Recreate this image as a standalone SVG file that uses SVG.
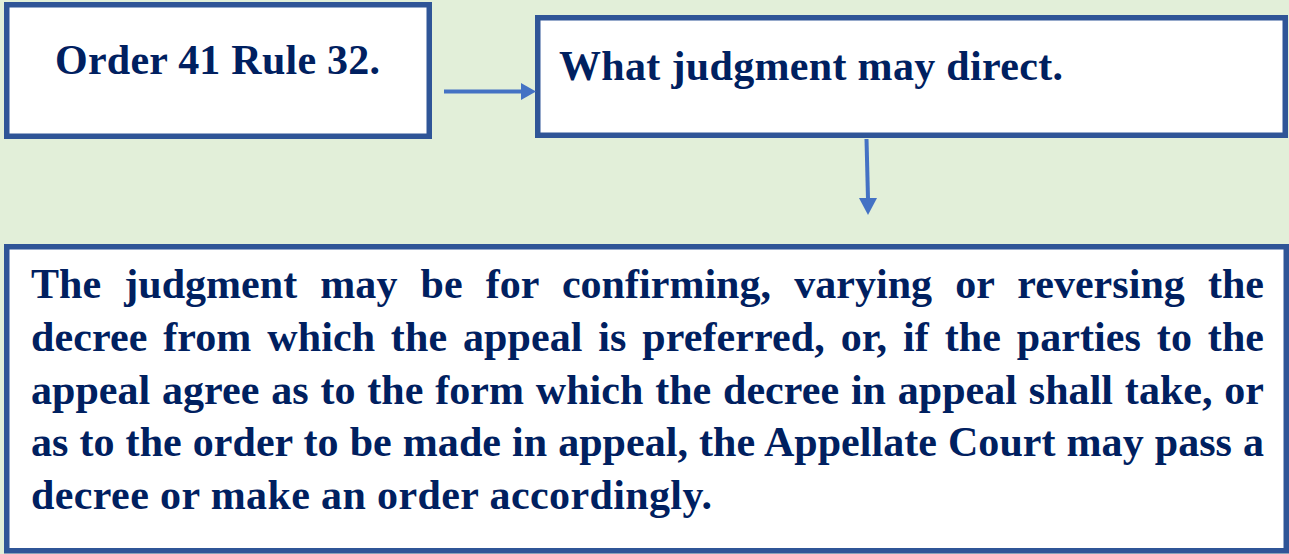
<svg xmlns="http://www.w3.org/2000/svg" width="1289" height="554" viewBox="0 0 1289 554">
<style>
.box{fill:#FFFFFF;stroke:#2F5597;stroke-width:5.5}
.t{font-family:"Liberation Serif","Times New Roman",serif;font-weight:bold;font-size:42px;fill:#002060}
.conn{stroke:#4472C4;stroke-width:4;fill:none}
.head{fill:#4472C4}
</style>
<rect x="0" y="0" width="1289" height="554" fill="#E2EFD9"/>
<g id="node-order">
<rect class="box" x="6.75" y="4.75" width="422.5" height="131.5"/>
<text class="t" x="55" y="74" textLength="325" lengthAdjust="spacing">Order 41 Rule 32.</text>
</g>
<g id="node-what">
<rect class="box" x="537.75" y="17.75" width="747.5" height="117.5"/>
<text class="t" x="559" y="80" textLength="504" lengthAdjust="spacing">What judgment may direct.</text>
</g>
<g id="node-judgment">
<rect class="box" x="6.75" y="246.75" width="1279.5" height="304"/>
<text class="t" x="31" y="298" word-spacing="12.6" textLength="1233" lengthAdjust="spacing">The judgment may be for confirming, varying or reversing the</text>
<text class="t" x="31" y="351" word-spacing="5.2" textLength="1233" lengthAdjust="spacing">decree from which the appeal is preferred, or, if the parties to the</text>
<text class="t" x="31" y="404" word-spacing="1.3" textLength="1233" lengthAdjust="spacing">appeal agree as to the form which the decree in appeal shall take, or</text>
<text class="t" x="31" y="456" word-spacing="0.5" textLength="1233" lengthAdjust="spacing">as to the order to be made in appeal, the Appellate Court may pass a</text>
<text class="t" x="31" y="509" textLength="681" lengthAdjust="spacing">decree or make an order accordingly.</text>
</g>
<g id="connectors">
<line class="conn" x1="444" y1="91.5" x2="523" y2="91.5"/>
<polygon class="head" points="521,83 536,91.5 521,100"/>
<line class="conn" x1="866.5" y1="139" x2="868" y2="199"/>
<polygon class="head" points="859,198 877,198 868,215"/>
</g>
</svg>
